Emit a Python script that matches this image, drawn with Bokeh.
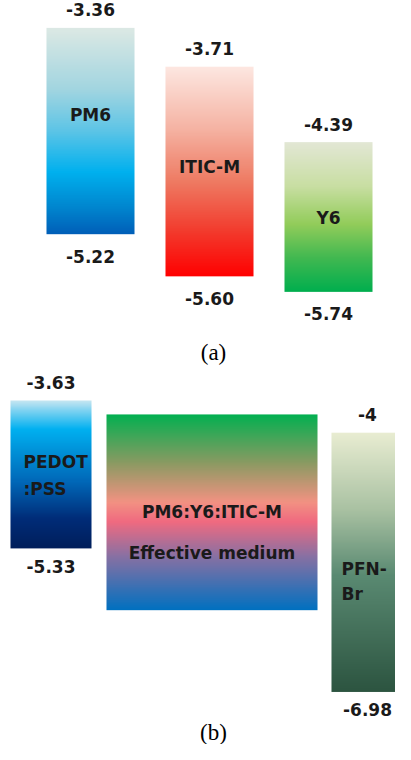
import numpy as np
from bokeh.plotting import figure
from bokeh.layouts import column
from bokeh.models import Range1d, Label
from bokeh.core.properties import value
from bokeh.embed import file_html
from bokeh.resources import INLINE

# ---------------- data ----------------
# panel (a): frontier orbital levels (eV)
a_names = ["PM6", "ITIC-M", "Y6"]
a_lumo = [-3.36, -3.71, -4.39]
a_homo = [-5.22, -5.60, -5.74]
a_lumo_labels = ["-3.36", "-3.71", "-4.39"]
a_homo_labels = ["-5.22", "-5.60", "-5.74"]

# panel (b): device stack levels (eV)
b_names = ["PEDOT:PSS", "PM6:Y6:ITIC-M", "PFN-Br"]
b_top = [-3.63, -3.79, -4.00]
b_bottom = [-5.33, -6.04, -6.98]
b_top_labels = ["-3.63", "", "-4"]
b_bottom_labels = ["-5.33", "", "-6.98"]

# ---------------- styles / layout ----------------
FONT = value("DejaVu Sans")
TXT = "#1a1a1a"
FS = "17px"

a_grad = [
    [(0.0, "#dde9e4"), (0.3, "#a2d5e0"), (0.5, "#5cc4e6"), (0.7, "#00b0ee"), (0.86, "#0088d0"), (1.0, "#005fb8")],
    [(0.0, "#fde8e2"), (0.3, "#f5b3a3"), (0.55, "#ee7a62"), (0.78, "#f23c2e"), (1.0, "#ff0000")],
    [(0.0, "#e3e7d6"), (0.3, "#c8dea2"), (0.55, "#92cc5a"), (0.78, "#3fb850"), (1.0, "#00ae4e")],
]
b_grad = [
    [(0.0, "#cbe7f1"), (0.2, "#00b0f0"), (0.55, "#0068b8"), (0.8, "#002c78"), (1.0, "#001e5a")],
    [(0.0, "#00b050"), (0.25, "#8a9a62"), (0.45, "#f29282"), (0.55, "#f06a80"), (0.72, "#8c70a2"), (1.0, "#0070c0")],
    [(0.0, "#e9edd2"), (0.3, "#a9c1a2"), (0.55, "#5a8a72"), (1.0, "#2c5440")],
]


def hex_rgb(h):
    h = h.lstrip("#")
    return [int(h[i:i + 2], 16) for i in (0, 2, 4)]


def gradient(stops, n=300):
    img = np.empty((n, 1), dtype=np.uint32)
    view = img.view(dtype=np.uint8).reshape((n, 1, 4))
    fr = np.array([s[0] for s in stops])
    cols = np.array([hex_rgb(s[1]) for s in stops], dtype=float)
    for r in range(n):
        t = 1.0 - (r + 0.5) / n  # fraction from top
        for k in range(3):
            view[r, 0, k] = int(round(np.interp(t, fr, cols[:, k])))
        view[r, 0, 3] = 255
    return img


def make_fig(ylo, yhi, h):
    p = figure(width=395, height=h, x_range=Range1d(0, 395), y_range=Range1d(ylo, yhi),
               toolbar_location=None, output_backend="svg",
               x_axis_location=None, y_axis_location=None, min_border=0,
               outline_line_color=None, background_fill_color="white",
               border_fill_color="white")
    p.xgrid.visible = False
    p.ygrid.visible = False
    return p


# ---------------- panel (a) ----------------
pa = make_fig(-6.467, -3.113, 372)
a_left0, a_width, a_step = 46, 88, 119
a_label_frac = [0.42, 0.48, 0.51]
a_cx = []
for i in range(len(a_names)):
    left = a_left0 + i * a_step
    a_cx.append(left + a_width / 2)
    pa.image_rgba(image=[gradient(a_grad[i])], x=left, y=a_homo[i],
                  dw=a_width, dh=a_lumo[i] - a_homo[i])

a_mid = [t - f * (t - b) for t, b, f in zip(a_lumo, a_homo, a_label_frac)]
pa.text(x=a_cx, y=a_mid, text=a_names, text_font=FONT, text_font_style="bold",
        text_font_size=FS, text_align="center", text_baseline="middle", text_color=TXT)
pa.text(x=a_cx, y=a_lumo, text=a_lumo_labels, text_font=FONT, text_font_style="bold",
        text_font_size=FS, text_align="center", text_baseline="middle", text_color=TXT,
        y_offset=-18)
pa.text(x=a_cx, y=a_homo, text=a_homo_labels, text_font=FONT, text_font_style="bold",
        text_font_size=FS, text_align="center", text_baseline="middle", text_color=TXT,
        y_offset=22)
pa.add_layout(Label(x=213, y=20, y_units="screen", text="(a)", text_font="Liberation Serif",
                    text_font_size="23px", text_align="center", text_baseline="middle",
                    text_color="#000000"))

# ---------------- panel (b) ----------------
pb = make_fig(-7.584, -3.308, 372)
b_left = [10, 106, 331]
b_right = [91, 317, 420]
b_cx = [50.5, 211.5, 367]
for i in range(len(b_names)):
    pb.image_rgba(image=[gradient(b_grad[i])], x=b_left[i], y=b_bottom[i],
                  dw=b_right[i] - b_left[i], dh=b_top[i] - b_bottom[i])

b_mid = [(t + b) / 2 for t, b in zip(b_top, b_bottom)]
common = dict(text_font=FONT, text_font_style="bold", text_font_size=FS, text_color=TXT,
              text_baseline="middle")
# PEDOT:PSS label (two lines, left aligned)
pb.text(x=[b_left[0] + 13] * 2, y=[b_mid[0]] * 2, text=["PEDOT", ":PSS"],
        y_offset=[-12, 15], text_align="left", **common)
# effective medium label
pb.text(x=[b_cx[1]] * 2, y=[b_mid[1]] * 2, text=[b_names[1], "Effective medium"],
        y_offset=[0, 41], text_align="center", **common)
# PFN-Br label
pb.text(x=[b_left[2] + 10] * 2, y=[b_mid[2]] * 2, text=["PFN-", "Br"],
        y_offset=[7, 32], text_align="left", **common)
pb.text(x=b_cx, y=b_top, text=b_top_labels, y_offset=-18, text_align="center", **common)
pb.text(x=b_cx, y=b_bottom, text=b_bottom_labels, y_offset=18, text_align="center", **common)
pb.add_layout(Label(x=213, y=12, y_units="screen", text="(b)", text_font="Liberation Serif",
                    text_font_size="23px", text_align="center", text_baseline="middle",
                    text_color="#000000"))

layout = column(pa, pb, spacing=0)
open("out.html", "w").write(file_html(layout, INLINE))
